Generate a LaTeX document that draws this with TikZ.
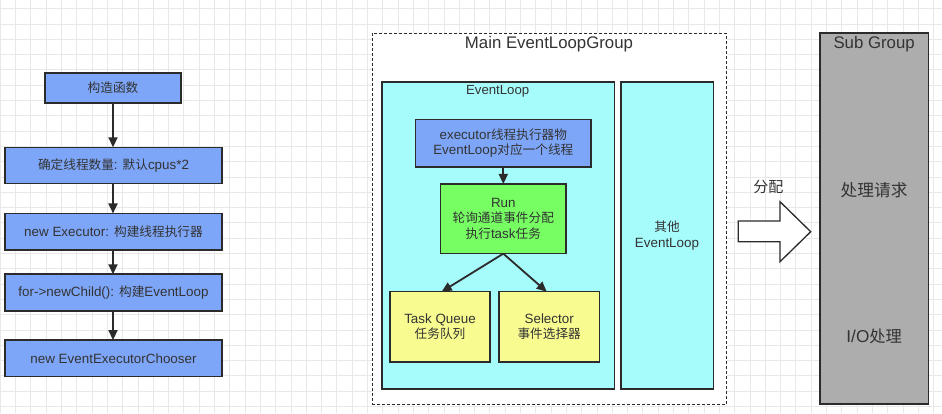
\documentclass[tikz,border=0pt]{standalone}
\usepackage{fontspec}
\setmainfont{Liberation Sans}
\newfontfamily\cjkfam[Scale=0.945]{Noto Sans CJK SC}
\newcommand{\zh}[1]{{\cjkfam #1}}
\usetikzlibrary{arrows.meta,calc}
\definecolor{gridc}{HTML}{E8E8E8}
\definecolor{blueb}{HTML}{7EA6F8}
\definecolor{greenb}{HTML}{76FE63}
\definecolor{yellowb}{HTML}{F8FB90}
\definecolor{cyanb}{HTML}{A6FBFB}
\definecolor{grayb}{HTML}{ADADAD}
\definecolor{ink}{HTML}{2B2B2B}
\definecolor{txt}{HTML}{333333}
\tikzset{
  box/.style={draw=ink, line width=1.6pt, inner sep=0pt, outer sep=0pt, text=txt, align=center, font=\fontsize{13.4}{15.6}\selectfont},
  bluebox/.style={box, fill=blueb},
  conn/.style={draw=ink, line width=1.8pt, -{Triangle[length=10pt,width=9pt]}},
  lbl/.style={text=txt, inner sep=0pt, align=center},
}
\begin{document}
\begin{tikzpicture}[x=1pt,y=-1pt]
\useasboundingbox (0,0) rectangle (942,413);
\fill[white] (0,0) rectangle (942,413);
% grid
\foreach \k in {0,...,61} { \draw[gridc, line width=0.8pt] ({0.2+15.3*\k},0) -- ({0.2+15.3*\k},413); }
\foreach \k in {0,...,26} { \draw[gridc, line width=0.8pt] (0,{8.6+15.3*\k}) -- (942,{8.6+15.3*\k}); }

% left flow
\node[bluebox, minimum width=136pt, minimum height=30pt] (b1) at (113,88) {\zh{构造函数}};
\node[bluebox, minimum width=217pt, minimum height=36pt] (b2) at (113.5,165.3) {\zh{确定线程数量}: \zh{默认}cpus*2};
\node[bluebox, minimum width=217pt, minimum height=36.5pt] (b3) at (113.5,231.7) {new Executor: \zh{构建线程执行器}};
\node[bluebox, minimum width=217pt, minimum height=36.5pt] (b4) at (113.5,292.5) {for->newChild(): \zh{构建}EventLoop};
\node[bluebox, minimum width=217pt, minimum height=36.5pt] (b5) at (113.5,358.3) {new EventExecutorChooser};
\draw[conn] (b1.south) -- (b1.south |- b2.north);
\draw[conn] (b2.south -| b1.south) -- (b1.south |- b3.north);
\draw[conn] (b3.south -| b1.south) -- (b1.south |- b4.north);
\draw[conn] (b4.south -| b1.south) -- (b1.south |- b5.north);

% main group
\draw[ink, line width=0.7pt, dash pattern=on 3pt off 2pt, fill=white] (372.7,33.3) rectangle (726.7,404);
\node[lbl, font=\fontsize{16.8}{19}\selectfont] (title) at (549,44) {Main EventLoopGroup};
\draw[ink, line width=1.6pt, fill=cyanb] (382,81.7) rectangle (614.3,389);
\node[lbl, font=\fontsize{13.2}{16}\selectfont] (ellbl) at (497.7,91) {EventLoop};
\node[box, fill=cyanb, minimum width=92.6pt, minimum height=307.3pt, font=\fontsize{13.4}{16}\selectfont] (other) at (667,235.35) {\zh{其他}\\EventLoop};

\node[bluebox, minimum width=175.3pt, minimum height=47.4pt] (exec) at (503.3,143) {executor\zh{线程执行器物}\\EventLoop\zh{对应一个线程}};
\node[box, fill=greenb, minimum width=125.3pt, minimum height=69.7pt] (run) at (503.3,218.8) {Run\\\zh{轮询通道事件分配}\\\zh{执行}task\zh{任务}};
\node[box, fill=yellowb, minimum width=100pt, minimum height=70.3pt] (tq) at (440,326.8) {Task Queue\\\zh{任务队列}};
\node[box, fill=yellowb, minimum width=100.3pt, minimum height=70.3pt] (sel) at (549.2,326.8) {Selector\\\zh{事件选择器}};
\draw[conn] (exec.south) -- (run.north);
\draw[conn] (run.south) -- ($(tq.north)+(1.7,0)$);
\draw[conn] (run.south) -- ($(sel.north)+(-2.5,0)$);

% dispatch arrow
\draw[ink, line width=1.3pt, fill=white, line join=miter] (738.3,221) -- (780,221) -- (780,201.7) -- (810.7,231.7) -- (780,261.7) -- (780,241.7) -- (738.3,241.7) -- cycle;
\node[lbl, font=\fontsize{15.9}{18}\selectfont] (fp) at (768.3,186.7) {\zh{分配}};

% sub group
\node[box, fill=grayb, minimum width=108.3pt, minimum height=371.3pt] (sub) at (874.15,218.35) {};
\node[lbl, font=\fontsize{16.8}{19}\selectfont] (subt) at (874.15,44) {Sub Group};
\node[lbl, font=\fontsize{17.7}{20}\selectfont] (req) at (874.15,190) {\zh{处理请求}};
\node[lbl, font=\fontsize{17.2}{20}\selectfont] (io) at (874.15,336.7) {I/O\zh{处理}};
\end{tikzpicture}
\end{document}
